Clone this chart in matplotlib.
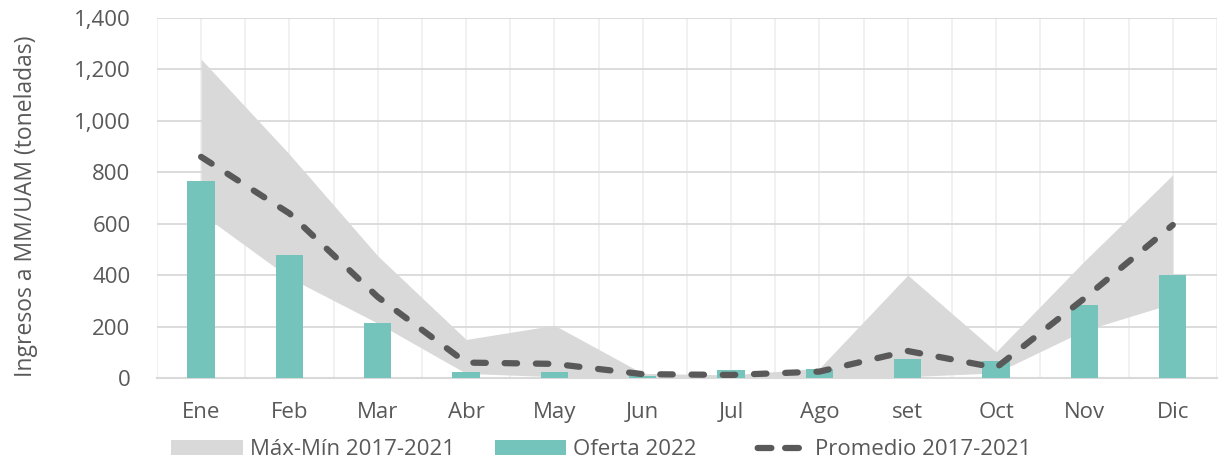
import numpy as np
import matplotlib.pyplot as plt
from matplotlib.lines import Line2D
from matplotlib.patches import Patch

# data
meses = ['Ene', 'Feb', 'Mar', 'Abr', 'May', 'Jun', 'Jul', 'Ago', 'set', 'Oct', 'Nov', 'Dic']
maximo = [1240, 870, 475, 150, 205, 18, 12, 38, 400, 102, 455, 790]
minimo = [640, 390, 213, 18, 5, 0, 0, 5, 5, 20, 185, 290]
oferta_2022 = [765, 480, 215, 22, 25, 8, 33, 36, 74, 65, 283, 400]
promedio = [860, 640, 315, 60, 55, 15, 12, 25, 105, 40, 310, 595]

gris_txt = '#595959'
plt.rcParams['font.family'] = ['Open Sans', 'DejaVu Sans']

fig = plt.figure(figsize=(12.3, 4.66), dpi=100)
ax = fig.add_axes([0.1276, 0.1888, 0.8618, 0.7726])

x = np.arange(len(meses))
ax.fill_between(x, minimo, maximo, color='#d9d9d9', linewidth=0, zorder=2)
ax.bar(x, oferta_2022, width=0.31, color='#75c4bb', zorder=3)
ax.plot(x, promedio, color=gris_txt, linewidth=4.5, linestyle=(0, (2, 3)),
        dash_capstyle='round', solid_capstyle='round', zorder=4)

ax.set_xlim(-0.5, len(meses) - 0.5)
ax.set_ylim(0, 1400)
ax.set_yticks(np.arange(0, 1401, 200))
ax.set_yticklabels([f'{v:,}' for v in range(0, 1401, 200)])
ax.set_xticks(x)
ax.set_xticklabels(meses)
ax.set_xticks(np.arange(-0.5, len(meses), 1.0), minor=True)

ax.grid(axis='y', color='#d9d9d9', linewidth=1.3, zorder=0)
ax.grid(axis='x', which='both', color='#f0f0f0', linewidth=1.3, zorder=0)
ax.set_axisbelow(True)
for s in ['top', 'right', 'left']:
    ax.spines[s].set_visible(False)
ax.spines['bottom'].set_color('#d9d9d9')
ax.spines['bottom'].set_linewidth(1.5)
ax.tick_params(which='both', length=0, labelsize=16, colors=gris_txt)
ax.tick_params(axis='x', pad=17)
ax.tick_params(axis='y', pad=19)

fig.text(0.021, 0.558, 'Ingresos a MM/UAM (toneladas)', rotation=90, ha='center',
         va='center', fontsize=16.5, color=gris_txt)

handles = [
    Patch(facecolor='#d9d9d9', edgecolor='none'),
    Patch(facecolor='#75c4bb', edgecolor='none'),
    Line2D([0], [0], color=gris_txt, linewidth=4.5,
           linestyle=(23.3, (2.2, 2.2, 2.2, 20)), dash_capstyle='round'),
]
labels = ['Máx-Mín 2017-2021', 'Oferta 2022', 'Promedio 2017-2021']
leg = fig.legend(handles, labels, loc='center', bbox_to_anchor=(0.489, 0.035), ncol=3,
                 frameon=False, fontsize=16, handlelength=3.2, handleheight=0.65,
                 columnspacing=1.8, handletextpad=0.33, labelcolor=gris_txt,
                 borderpad=0.1)

fig.savefig('out.png', dpi=100)
